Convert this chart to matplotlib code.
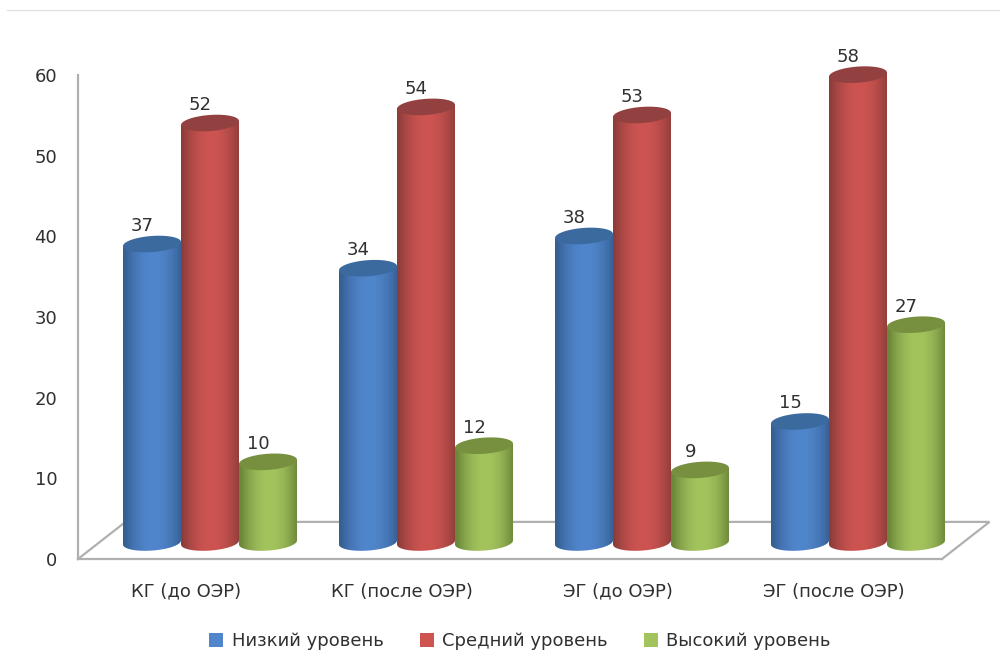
import numpy as np
import matplotlib
matplotlib.use('Agg')
import matplotlib.pyplot as plt
from matplotlib.colors import to_rgb
from matplotlib.patches import PathPatch, Patch, Polygon
from matplotlib.path import Path
from matplotlib.lines import Line2D

categories = ['КГ (до ОЭР)', 'КГ (после ОЭР)', 'ЭГ (до ОЭР)', 'ЭГ (после ОЭР)']
series_names = ['Низкий уровень', 'Средний уровень', 'Высокий уровень']
low = [37, 34, 38, 15]
mid = [52, 54, 53, 58]
high = [10, 12, 9, 27]

# edge, centre, top cap
colors_blue = ['#365f93', '#5086cc', '#3b6a9f']
colors_red = ['#8e3d3a', '#cd5451', '#924140']
colors_green = ['#6b8539', '#a3c45d', '#76903f']

W, H = 1000, 670
GRID = '#b0b0b0'
TEXT = '#303030'


def px_axes(fig, left, right, top, bottom):
    return fig.add_axes([left / W, 1 - bottom / H, (right - left) / W, (bottom - top) / H])


def shaded(colors):
    # горизонтальный градиент цилиндра
    edge = np.array(to_rgb(colors[0]))
    centre = np.array(to_rgb(colors[1]))
    t = np.linspace(-1, 1, 64)
    k = np.clip(np.abs(t - 0.05) ** 2, 0, 1)[:, None]
    row = centre * (1 - k) + edge * k
    return row[None, :, :]


def cylinder(ax, x, value, width, colors, z):
    cap = 1.0
    tilt = 0.5 / width
    n = 40
    th = np.linspace(np.pi, 2 * np.pi, n)
    ox = width / 2 * np.cos(th)
    oy = cap * np.sin(th) + tilt * ox
    # нижняя дуга и прямая кромка сверху
    bx = x + ox
    by = oy
    top_x = x + np.array([width / 2, -width / 2])
    top_y = value + tilt * np.array([width / 2, -width / 2])
    verts = np.r_[np.c_[bx, by], np.c_[top_x, top_y], [[bx[0], by[0]]]]
    codes = [Path.MOVETO] + [Path.LINETO] * (len(verts) - 2) + [Path.CLOSEPOLY]
    body = PathPatch(Path(verts, codes), fc='none', ec='none', zorder=z)
    ax.add_patch(body)
    im = ax.imshow(shaded(colors), extent=[x - width / 2, x + width / 2, -2, value + 1],
                   aspect='auto', zorder=z, interpolation='bilinear')
    im.set_clip_path(body)
    th2 = np.linspace(0, 2 * np.pi, 80)
    ox2 = width / 2 * np.cos(th2)
    oy2 = cap * np.sin(th2) + tilt * ox2
    ax.add_patch(Polygon(np.c_[x + ox2, value + oy2], closed=True, fc=colors[2], ec='none',
                         zorder=z + 0.1))


fig = plt.figure(figsize=(10, 6.7), dpi=100)
plt.rcParams['font.family'] = ['DejaVu Sans']

fig.add_artist(Line2D([7 / W, 1], [1 - 9.5 / H, 1 - 9.5 / H], color='#e2e2e2', lw=1))

# передняя плоскость: ось значений и подписи
ax = px_axes(fig, 78, 942, 75, 559)
ax.set_xlim(-0.5, 3.5)
ax.set_ylim(0, 60)
ax.patch.set_visible(False)
for s in ['top', 'right']:
    ax.spines[s].set_visible(False)
for s in ['left', 'bottom']:
    ax.spines[s].set_color(GRID)
    ax.spines[s].set_linewidth(1.6)
ax.set_yticks(range(0, 61, 10))
ax.set_xticks(range(4))
ax.set_xticklabels(categories)
ax.tick_params(axis='y', length=0, pad=15, labelsize=13, labelcolor=TEXT)
ax.tick_params(axis='x', length=0, pad=17, labelsize=13, labelcolor=TEXT)

# пол
dx, dy = 0.22, 4.6
ax.plot([-0.5, -0.5 + dx, 3.5 + dx, 3.5], [0, dy, dy, 0], color=GRID, lw=1.6, clip_on=False,
        solid_joinstyle='miter')

# столбцы сдвинуты в глубину
ax2 = px_axes(fig, 102, 966, 58.5, 542.5 + 3 * 484 / 60)
ax2.set_xlim(-0.5, 3.5)
ax2.set_ylim(-3, 60)
ax2.axis('off')

bw = 58 / 216
for k, (vals, colors) in enumerate(zip([low, mid, high], [colors_blue, colors_red, colors_green])):
    for i, v in enumerate(vals):
        x = i + (k - 1) * bw
        cylinder(ax2, x, v, bw, colors, 3 + k * 0.5)
        ax2.annotate(str(v), (x, v), xytext=(-7, 13), textcoords='offset points',
                     ha='center', va='center', fontsize=13, color=TEXT, zorder=10,
                     annotation_clip=False)
ax2.set_xlim(-0.5, 3.5)
ax2.set_ylim(-3, 60)

handles = [Patch(fc=c[1], ec='none') for c in [colors_blue, colors_red, colors_green]]
fig.legend(handles, series_names, loc='center', bbox_to_anchor=(520 / W, 1 - 641 / H), ncol=3,
           frameon=False, fontsize=13, handlelength=0.8, handleheight=0.8,
           handletextpad=0.45, columnspacing=2.0, labelcolor=TEXT)

fig.savefig('out.png', dpi=100)
